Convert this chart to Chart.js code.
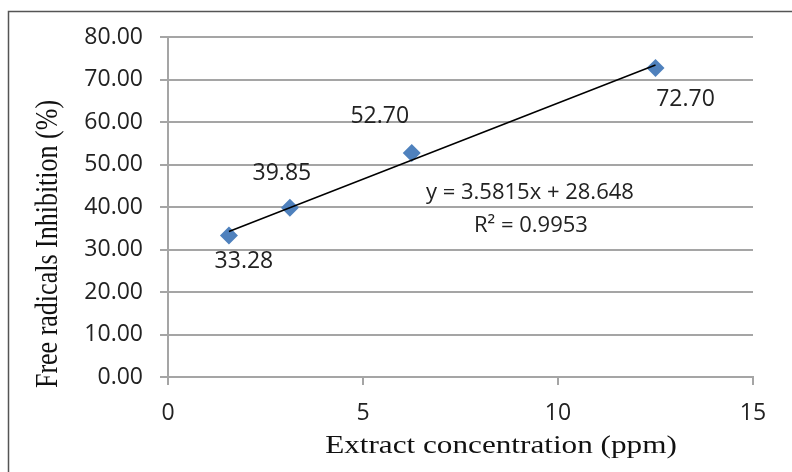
<!DOCTYPE html>
<html>
<head>
<meta charset="utf-8">
<script src="https://cdn.jsdelivr.net/npm/chart.js@4.4.1/dist/chart.umd.min.js"></script>
<style>
  html, body { margin: 0; padding: 0; background: #fff; }
</style>
</head>
<body>
<canvas id="chart" width="792" height="472"></canvas>
<script>
// Data
const concentrations = [1.5625, 3.125, 6.25, 12.5];
const inhibition = [33.28, 39.85, 52.70, 72.70];
const trendX = [1.5625, 12.5];
const trendY = [34.24, 73.42];
const equationText = "y = 3.5815x + 28.648";
const rSquaredText = "R\u00B2 = 0.9953";
const xTitle = "Extract concentration (ppm)";
const yTitle = "Free radicals Inhibition (%)";

// label placement (px offsets from each point, text baseline)
const labelOffsets = [[15, 32], [-8, -28], [-32, -30], [30, 38]];
const equationAnchor = { x: 9.28, y: 41.9 };

const gridColor = "#a5a5a5";
const textColor = "#222";
const tickFont = { family: "'Open Sans'", size: 23 };

const extras = {
  id: "extras",
  beforeDraw(chart) {
    const ctx = chart.ctx;
    ctx.save();
    ctx.fillStyle = "#fff";
    ctx.fillRect(0, 0, chart.width, chart.height);
    ctx.strokeStyle = "#555";
    ctx.lineWidth = 1.5;
    ctx.beginPath();
    ctx.moveTo(8.5, 472);
    ctx.lineTo(8.5, 11.5);
    ctx.lineTo(792, 11.5);
    ctx.stroke();
    ctx.restore();
  },
  afterDatasetsDraw(chart) {
    const ctx = chart.ctx;
    const xs = chart.scales.x, ys = chart.scales.y;
    ctx.save();
    ctx.fillStyle = textColor;
    ctx.font = "23px 'Open Sans'";
    ctx.textAlign = "center";
    ctx.textBaseline = "alphabetic";
    inhibition.forEach((v, i) => {
      const px = xs.getPixelForValue(concentrations[i]);
      const py = ys.getPixelForValue(v);
      ctx.fillText(v.toFixed(2), px + labelOffsets[i][0], py + labelOffsets[i][1]);
    });
    const ex = xs.getPixelForValue(equationAnchor.x);
    const ey = ys.getPixelForValue(equationAnchor.y);
    ctx.font = "22px 'Open Sans'";
    ctx.fillText(equationText, ex, ey);
    ctx.fillText(rSquaredText, ex + 1, ey + 33);
    ctx.restore();
  },
  afterDraw(chart) {
    const ctx = chart.ctx;
    ctx.save();
    ctx.fillStyle = "#111";
    ctx.font = "26px 'Liberation Serif'";
    ctx.textAlign = "center";
    ctx.textBaseline = "alphabetic";
    // x title (source is stretched horizontally)
    ctx.save();
    ctx.translate(501, 453);
    ctx.scale(1.2, 1);
    ctx.fillText(xTitle, 0, 0);
    ctx.restore();
    // y title
    ctx.save();
    ctx.translate(57, 244);
    ctx.rotate(-Math.PI / 2);
    ctx.scale(1, 1.2);
    ctx.fillText(yTitle, 0, 0);
    ctx.restore();
    ctx.restore();
  }
};

new Chart(document.getElementById("chart"), {
  type: "scatter",
  data: {
    datasets: [{
      type: "line",
      data: trendX.map((x, i) => ({ x: x, y: trendY[i] })),
      borderColor: "#000",
      borderWidth: 1.5,
      pointRadius: 0,
      fill: false,
      order: 0
    }, {
      data: concentrations.map((x, i) => ({ x: x, y: inhibition[i] })),
      pointStyle: "rectRot",
      pointRadius: 9,
      backgroundColor: "#4f81bd",
      borderColor: "#4f81bd",
      borderWidth: 0,
      order: 1
    }]
  },
  options: {
    responsive: false,
    animation: false,
    layout: {
      padding: { top: 37, right: 39, left: 0, bottom: 0 }
    },
    plugins: {
      legend: { display: false },
      tooltip: { enabled: false }
    },
    scales: {
      x: {
        type: "linear",
        position: "bottom",
        min: 0,
        max: 15,
        afterFit: s => { s.height = 95; },
        ticks: {
          stepSize: 5,
          font: tickFont,
          color: textColor,
          padding: 15
        },
        grid: {
          drawOnChartArea: false,
          tickLength: 8,
          color: gridColor,
          lineWidth: 2
        },
        border: { color: gridColor, width: 2 }
      },
      y: {
        min: 0,
        max: 80,
        afterFit: s => { s.width = 168; },
        ticks: {
          stepSize: 10,
          font: tickFont,
          color: textColor,
          padding: 17,
          callback: v => v.toFixed(2)
        },
        grid: {
          tickLength: 8,
          color: gridColor,
          lineWidth: 2
        },
        border: { color: gridColor, width: 2 }
      }
    }
  },
  plugins: [extras]
});
</script>
</body>
</html>
